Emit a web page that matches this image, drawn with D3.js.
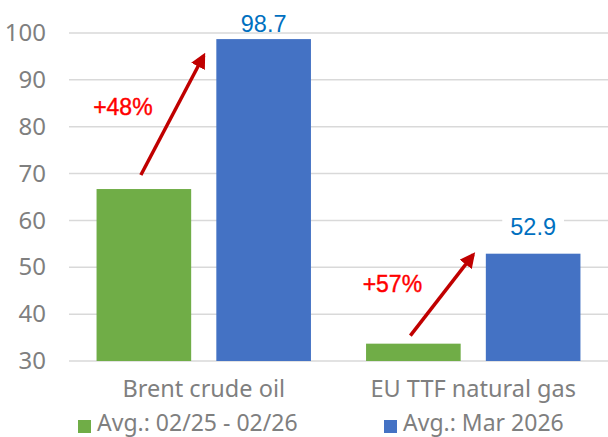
<!DOCTYPE html>
<html>
<head>
<meta charset="utf-8">
<script src="https://cdn.jsdelivr.net/npm/d3@7"></script>
<style>
  body { margin: 0; background: #fff; }
  svg text { font-family: "Noto Sans", sans-serif; }
  .label-arial { font-family: "Liberation Sans", Arial, sans-serif; }
</style>
</head>
<body>
<div id="chart"></div>
<script>
// chart data
const categories = [`Brent crude oil`, `EU TTF natural gas`];
const seriesNames = [`Avg.: 02/25 - 02/26`, `Avg.: Mar 2026`];
const seriesColors = [`#70ad47`, `#4472c4`];
const avgPrevYear = [66.7, 33.7];
const avgMar2026 = [98.7, 52.9];
const changeLabels = [`+48%`, `+57%`];
const yTicks = [30, 40, 50, 60, 70, 80, 90, 100];
// arrow start / end and change label height, in value units
const arrowFrom = [69.7, 35.4];
const arrowTo = [95.2, 52.7];
const changeLabelAt = [82.5, 44.8];

const width = 608;
const height = 437;
const margin = { top: 33, right: 0, bottom: 76, left: 69 };

const svg = d3.select(`#chart`).append(`svg`)
    .attr(`width`, width)
    .attr(`height`, height);

const y = d3.scaleLinear()
    .domain([30, 100])
    .range([height - margin.bottom, margin.top]);

const x0 = d3.scaleBand()
    .domain(categories)
    .range([margin.left, width - margin.right]);

const x1 = d3.scaleBand()
    .domain([0, 1])
    .range([0, x0.bandwidth()])
    .paddingInner(0.21)
    .paddingOuter(0.23);

// gridlines
svg.append(`g`)
  .selectAll(`line`)
  .data(yTicks)
  .enter().append(`line`)
    .attr(`x1`, margin.left)
    .attr(`x2`, width - margin.right)
    .attr(`y1`, (d) => y(d))
    .attr(`y2`, (d) => y(d))
    .attr(`stroke`, `#d9d9d9`)
    .attr(`stroke-width`, 1.5);

// y axis labels
const yAxis = svg.append(`g`)
    .attr(`transform`, `translate(${margin.left - 23},0)`)
    .call(d3.axisLeft(y).tickValues(yTicks).tickSize(0).tickPadding(0));
yAxis.select(`.domain`).remove();
yAxis.selectAll(`text`)
    .attr(`fill`, `#7f7f7f`)
    .style(`font-size`, `24px`)
    .style(`font-family`, `"Noto Sans", sans-serif`);

// bars
const rows = categories.map((c, i) => ({ cat: c, vals: [avgPrevYear[i], avgMar2026[i]] }));

const groups = svg.selectAll(`.group`)
    .data(rows)
  .enter().append(`g`)
    .attr(`class`, `group`)
    .attr(`transform`, (d) => `translate(${x0(d.cat)},0)`);

groups.selectAll(`rect`)
    .data((d) => d.vals.map((v, s) => ({ v, s })))
  .enter().append(`rect`)
    .attr(`x`, (d) => x1(d.s))
    .attr(`width`, x1.bandwidth())
    .attr(`y`, (d) => y(d.v))
    .attr(`height`, (d) => y(30) - y(d.v))
    .attr(`fill`, (d) => seriesColors[d.s]);

// value labels on the blue bars
const valueLabelGap = [7, 19];
groups.each(function(d, i) {
  const g = d3.select(this);
  const cx = x1(1) + x1.bandwidth() / 2;
  const baseY = y(d.vals[1]) - valueLabelGap[i];
  const label = g.append(`text`)
      .attr(`class`, `label-arial`)
      .attr(`x`, cx)
      .attr(`y`, baseY)
      .attr(`text-anchor`, `middle`)
      .attr(`fill`, `#0070c0`)
      .style(`font-size`, `23.5px`)
      .text(d.vals[1].toFixed(1));
  const bb = label.node().getBBox();
  g.insert(`rect`, `text`)
      .attr(`x`, bb.x - 8)
      .attr(`y`, bb.y - 4)
      .attr(`width`, bb.width + 16)
      .attr(`height`, baseY - bb.y + 4)
      .attr(`fill`, `#fff`);
});

// change arrows
svg.append(`defs`).append(`marker`)
    .attr(`id`, `arrowhead`)
    .attr(`viewBox`, `0 0 10 10`)
    .attr(`refX`, 8)
    .attr(`refY`, 5)
    .attr(`markerWidth`, 4.4)
    .attr(`markerHeight`, 4.4)
    .attr(`orient`, `auto`)
  .append(`path`)
    .attr(`d`, `M0,0L10,5L0,10z`)
    .attr(`fill`, `#c00000`);

groups.each(function(d, i) {
  const g = d3.select(this);
  const xs = x1(0) + x1.bandwidth() / 2 - 3;
  const xe = (x1(0) + x1.bandwidth() + x1(1)) / 2;
  g.append(`line`)
      .attr(`x1`, xs)
      .attr(`y1`, y(arrowFrom[i]))
      .attr(`x2`, xe)
      .attr(`y2`, y(arrowTo[i]))
      .attr(`stroke`, `#c00000`)
      .attr(`stroke-width`, 3.5)
      .attr(`marker-end`, `url(#arrowhead)`);
  g.append(`text`)
      .attr(`class`, `label-arial`)
      .attr(`x`, xs - 18)
      .attr(`y`, y(changeLabelAt[i]))
      .attr(`text-anchor`, `middle`)
      .attr(`fill`, `#ff0000`)
      .attr(`stroke`, `#ff0000`)
      .attr(`stroke-width`, 0.4)
      .style(`font-size`, `23px`)
      .text(changeLabels[i]);
});

// category labels
svg.append(`g`)
  .selectAll(`text`)
  .data(categories)
  .enter().append(`text`)
    .attr(`x`, (d) => x0(d) + x0.bandwidth() / 2)
    .attr(`y`, 397)
    .attr(`text-anchor`, `middle`)
    .attr(`fill`, `#7f7f7f`)
    .style(`font-size`, `23.5px`)
    .text((d) => d);

// legend
const legendX = [78, 384];
const legend = svg.append(`g`)
  .selectAll(`g`)
  .data(seriesNames)
  .enter().append(`g`)
    .attr(`transform`, (d, i) => `translate(${legendX[i]},0)`);
legend.append(`rect`)
    .attr(`y`, 420)
    .attr(`width`, 13)
    .attr(`height`, 13)
    .attr(`fill`, (d, i) => seriesColors[i]);
legend.append(`text`)
    .attr(`x`, 19)
    .attr(`y`, 431)
    .attr(`fill`, `#7f7f7f`)
    .style(`font-size`, `23px`)
    .text((d) => d);
</script>
</body>
</html>
